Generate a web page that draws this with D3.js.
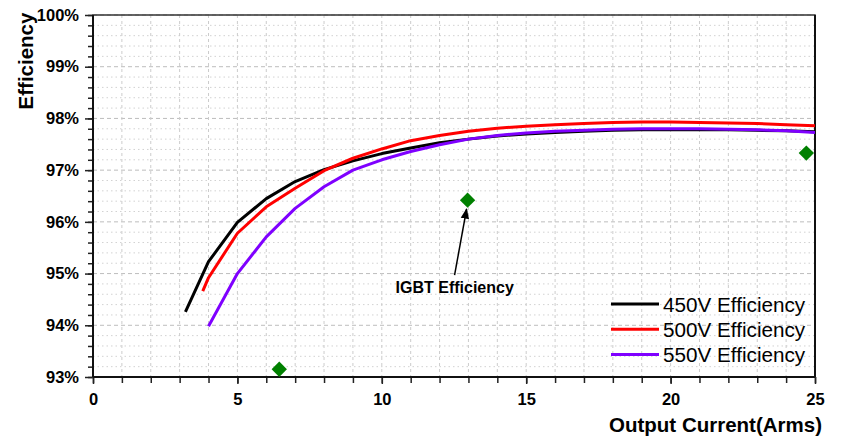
<!DOCTYPE html>
<html><head><meta charset="utf-8">
<script src="https://cdn.jsdelivr.net/npm/d3@7"></script>
<style>body{margin:0;background:#fff}svg{display:block}text{font-family:"Liberation Sans",Arial,sans-serif}</style>
</head><body><svg id="c" width="865" height="443"></svg>
<script>
const current450 = [3.2,4,5,6,7,8,9,10,11,12,13,14,15,16,17,18,19,20,21,22,23,24,25];
const eff450 = [94.26,95.23,95.99,96.45,96.78,97.01,97.18,97.32,97.43,97.53,97.6,97.66,97.7,97.73,97.75,97.77,97.78,97.78,97.78,97.78,97.77,97.76,97.74];
const current500 = [3.8,4,5,6,7,8,9,10,11,12,13,14,15,16,17,18,19,20,21,22,23,24,25];
const eff500 = [94.66,94.92,95.78,96.29,96.65,96.99,97.23,97.41,97.57,97.67,97.75,97.81,97.85,97.88,97.9,97.92,97.93,97.93,97.92,97.91,97.9,97.88,97.86];
const current550 = [4,5,6,7,8,9,10,11,12,13,14,15,16,17,18,19,20,21,22,23,24,25];
const eff550 = [93.98,95.0,95.71,96.26,96.68,97.0,97.2,97.36,97.49,97.6,97.67,97.72,97.75,97.77,97.79,97.8,97.8,97.8,97.79,97.78,97.76,97.73];
const igbtCurrent = [6.45,12.97,24.7];
const igbtEff = [93.15,96.42,97.33];
const seriesNames = ["450V Efficiency","500V Efficiency","550V Efficiency"];
const seriesColors = ["#000000","#ff0000","#7f00ff"];
const xTicks = [0,5,10,15,20,25];
const yTicks = [93,94,95,96,97,98,99,100];
const annotationText = "IGBT Efficiency";

const svg = d3.select("#c");
const L=93,R=815,T=15,B=377;
const x = d3.scaleLinear().domain([0,25]).range([L,R]);
const y = d3.scaleLinear().domain([93,100]).range([B,T]);

// grid
const g = svg.append("g");
d3.range(93,100.001,0.2).forEach(v=>{
  const major = Math.abs(v-Math.round(v))<1e-6;
  g.append("line").attr("x1",L).attr("x2",R).attr("y1",y(v)).attr("y2",y(v))
   .attr("stroke",major?"#bdbdbd":"#d2d2d2").attr("stroke-width",1)
   .attr("stroke-dasharray",major?"4,3":"1.5,3");
});
d3.range(1,25).forEach(v=>{
  g.append("line").attr("x1",x(v)).attr("x2",x(v)).attr("y1",T).attr("y2",B)
   .attr("stroke","#cccccc").attr("stroke-width",1).attr("stroke-dasharray","3,3");
});

// axes
const xMinor = d3.axisBottom(x).tickValues(d3.range(0,26,1)).tickSize(6).tickFormat("");
const xMajor = d3.axisBottom(x).tickValues(xTicks).tickSize(7).tickPadding(9).tickFormat(d=>d);
const yMinor = d3.axisLeft(y).tickValues(d3.range(93,100.001,0.2)).tickSize(5).tickFormat("");
const yMajor = d3.axisLeft(y).tickValues(yTicks).tickSize(8).tickPadding(6).tickFormat(d=>d+"%");
[xMinor,xMajor].forEach(a=>svg.append("g").attr("transform",`translate(0,${B})`).call(a));
[yMinor,yMajor].forEach(a=>svg.append("g").attr("transform",`translate(${L},0)`).call(a));
svg.selectAll(".domain").remove();
svg.selectAll(".tick line").attr("stroke","#222").attr("stroke-width",1.5);
svg.selectAll(".tick text").attr("fill","#000").style("font-size","16.5px").style("font-weight","bold");

// frame
svg.append("rect").attr("x",L).attr("y",T).attr("width",R-L).attr("height",B-T)
  .attr("fill","none").attr("stroke","#333").attr("stroke-width",1.5);
svg.append("line").attr("x1",L).attr("x2",L).attr("y1",T).attr("y2",B).attr("stroke","#111").attr("stroke-width",2);
svg.append("line").attr("x1",L).attr("x2",R).attr("y1",B).attr("y2",B).attr("stroke","#111").attr("stroke-width",2);
svg.append("line").attr("x1",R).attr("x2",R).attr("y1",T).attr("y2",B).attr("stroke","#111").attr("stroke-width",2);

// lines
const line = d3.line().x(d=>x(d[0])).y(d=>y(d[1]));
const series = [[current450,eff450],[current500,eff500],[current550,eff550]];
series.forEach((s,i)=>{
  svg.append("path").datum(d3.zip(s[0],s[1])).attr("d",line)
    .attr("fill","none").attr("stroke",seriesColors[i]).attr("stroke-width",3)
    .attr("stroke-linejoin","round");
});

// IGBT diamonds
svg.selectAll(".dia").data(d3.zip(igbtCurrent,igbtEff)).join("path")
  .attr("d",d3.symbol(d3.symbolDiamond2,150)())
  .attr("transform",d=>`translate(${x(d[0])},${y(d[1])})`).attr("fill","#008000");

// annotation
const defs = svg.append("defs");
defs.append("marker").attr("id","arr").attr("viewBox","0 0 10 10").attr("refX",9).attr("refY",5)
  .attr("markerWidth",7).attr("markerHeight",7).attr("orient","auto")
  .append("path").attr("d","M0,1 L10,5 L0,9 Z").attr("fill","#000");
const tx = x(igbtCurrent[1]), ty = y(igbtEff[1]);
svg.append("line").attr("x1",tx-13).attr("y1",ty+75).attr("x2",tx-1).attr("y2",ty+9)
  .attr("stroke","#000").attr("stroke-width",1.5).attr("marker-end","url(#arr)");
svg.append("text").attr("x",tx-72).attr("y",ty+93).text(annotationText)
  .style("font-size","16px").style("font-weight","bold");

// legend
seriesNames.forEach((n,i)=>{
  const ly = 304 + i*25.2;
  svg.append("line").attr("x1",611).attr("x2",659).attr("y1",ly).attr("y2",ly)
    .attr("stroke",seriesColors[i]).attr("stroke-width",3);
  svg.append("text").attr("x",663).attr("y",ly+7.5).text(n).style("font-size","20.7px");
});

// axis titles
svg.append("text").attr("x",822).attr("y",432).attr("text-anchor","end")
  .text("Output Current(Arms)").style("font-size","20.5px").style("font-weight","bold");
svg.append("text").attr("transform","translate(33,61) rotate(-90)").attr("text-anchor","middle")
  .text("Efficiency").style("font-size","20.5px").style("font-weight","bold");
</script></body></html>
